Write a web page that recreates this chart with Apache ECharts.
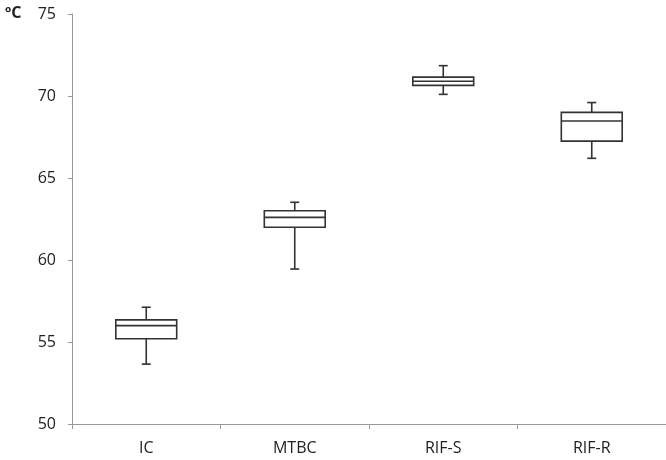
<!DOCTYPE html>
<html>
<head>
<meta charset="utf-8">
<script src="https://cdn.jsdelivr.net/npm/echarts@6/dist/echarts.min.js"></script>
<style>html,body{margin:0;padding:0;background:#fff;}#c{width:666px;height:460px;}</style>
</head>
<body>
<div id="c"></div>
<script>
var categories = ['IC', 'MTBC', 'RIF-S', 'RIF-R'];
var whiskerLow = [53.65, 59.45, 70.1, 66.2];
var q1 = [55.2, 62.0, 70.65, 67.25];
var median = [56.0, 62.6, 70.9, 68.48];
var q3 = [56.35, 63.0, 71.15, 69.0];
var whiskerHigh = [57.12, 63.52, 71.85, 69.6];
var yTicks = {min: 50, max: 75, interval: 5};

var data = categories.map(function (c, i) {
  return [i, whiskerLow[i], q1[i], median[i], q3[i], whiskerHigh[i]];
});

var chart = echarts.init(document.getElementById('c'));
var lineStyle = {stroke: '#333', lineWidth: 1.6, fill: null};
chart.setOption({
  animation: false,
  title: {text: 'ºC', left: 0, top: 0, textStyle: {fontFamily: 'Open Sans', fontSize: 16, fontWeight: 'bold', color: '#222'}},
  grid: {left: 72, right: 0, top: 14, bottom: 36},
  xAxis: {
    type: 'category', data: categories, boundaryGap: true,
    axisLine: {lineStyle: {color: '#999', width: 1}},
    axisTick: {show: true, length: 5, lineStyle: {color: '#999'}},
    axisLabel: {color: '#222', fontFamily: 'Open Sans', fontSize: 16, margin: 16},
    splitLine: {show: false}
  },
  yAxis: {
    type: 'value', min: yTicks.min, max: yTicks.max, interval: yTicks.interval,
    axisLine: {show: true, lineStyle: {color: '#999', width: 1}},
    axisTick: {show: true, length: 4, lineStyle: {color: '#999'}},
    axisLabel: {color: '#222', fontFamily: 'Open Sans', fontSize: 16, margin: 16},
    splitLine: {show: false}
  },
  series: [{
    type: 'custom',
    data: data,
    encode: {x: 0, y: [1, 2, 3, 4, 5]},
    renderItem: function (params, api) {
      var x = api.value(0);
      var pLow = api.coord([x, api.value(1)]);
      var pQ1 = api.coord([x, api.value(2)]);
      var pMed = api.coord([x, api.value(3)]);
      var pQ3 = api.coord([x, api.value(4)]);
      var pHigh = api.coord([x, api.value(5)]);
      var bw = api.size([1, 0])[0] * 0.41;
      var cw = 9;
      var cx = pMed[0];
      var l = cx - bw / 2, r = cx + bw / 2;
      return {
        type: 'group',
        children: [
          {type: 'line', shape: {x1: cx, y1: pQ3[1], x2: cx, y2: pHigh[1]}, style: lineStyle},
          {type: 'line', shape: {x1: cx, y1: pQ1[1], x2: cx, y2: pLow[1]}, style: lineStyle},
          {type: 'line', shape: {x1: cx - cw / 2, y1: pHigh[1], x2: cx + cw / 2, y2: pHigh[1]}, style: lineStyle},
          {type: 'line', shape: {x1: cx - cw / 2, y1: pLow[1], x2: cx + cw / 2, y2: pLow[1]}, style: lineStyle},
          {type: 'rect', shape: {x: l, y: pQ3[1], width: bw, height: pQ1[1] - pQ3[1]}, style: {stroke: '#333', lineWidth: 1.6, fill: '#fff'}},
          {type: 'line', shape: {x1: l, y1: pMed[1], x2: r, y2: pMed[1]}, style: lineStyle}
        ]
      };
    }
  }]
});
</script>
</body>
</html>
